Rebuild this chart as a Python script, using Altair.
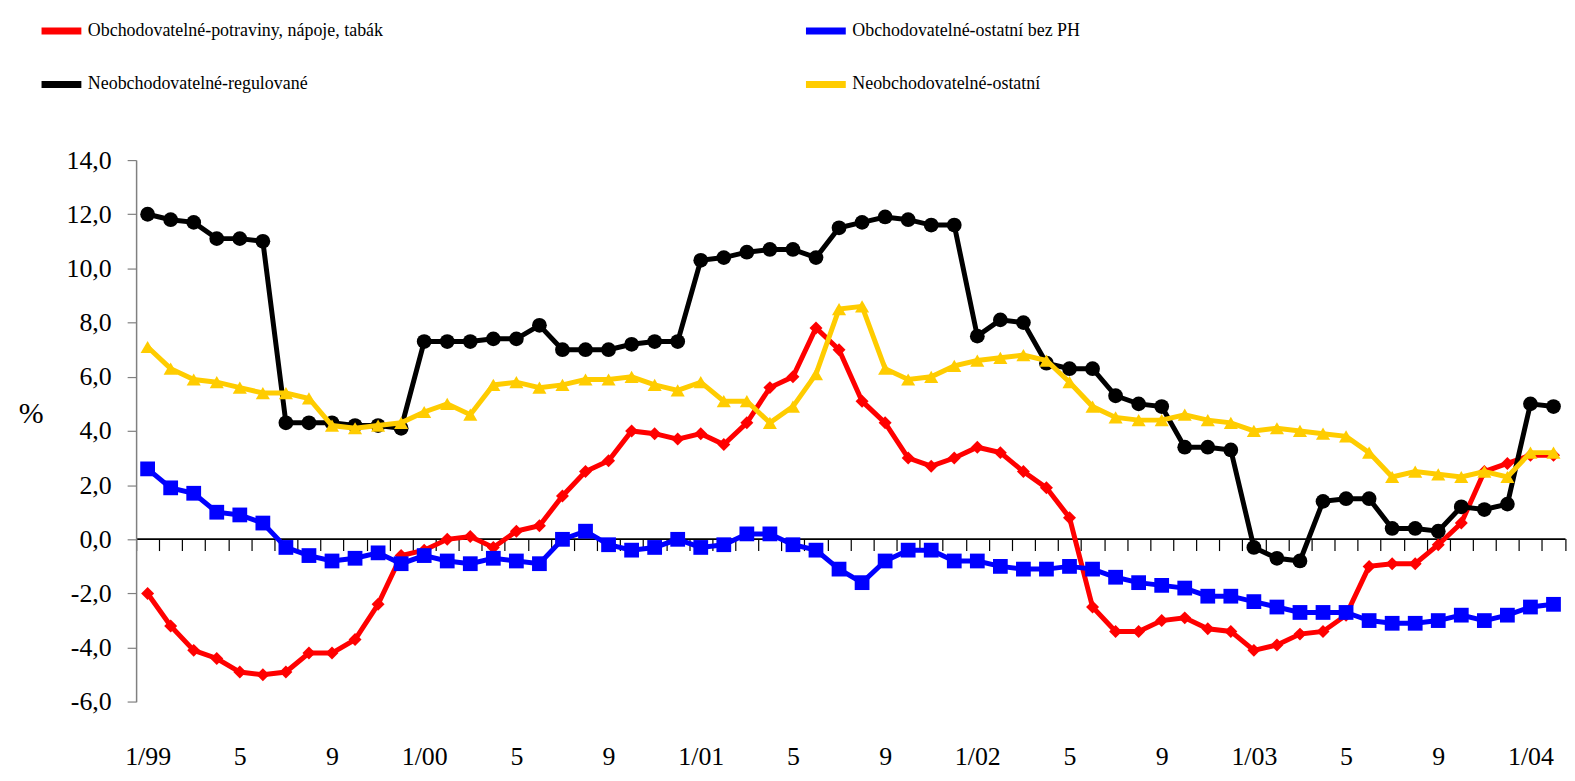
import altair as alt
import pandas as pd

# categories: months 1/99 .. 2/04
months = [f"{m}/{y:02d}" for y in (99, 0, 1, 2, 3) for m in range(1, 13)] + ["1/04", "2/04"]

series_names = [
    "Obchodovatelné-potraviny, nápoje, tabák",
    "Obchodovatelné-ostatní bez PH",
    "Neobchodovatelné-regulované",
    "Neobchodovatelné-ostatní",
]
series_colors = ["#FF0000", "#0000FF", "#000000", "#FFCC00"]
series_shapes = ["diamond", "square", "circle", "triangle-up"]
series_sizes = [170, 220, 220, 200]

potraviny = [-2.0, -3.2, -4.1, -4.4, -4.9, -5.0, -4.9, -4.2, -4.2, -3.7, -2.4, -0.6,
             -0.4, 0.0, 0.1, -0.3, 0.3, 0.5, 1.6, 2.5, 2.9, 4.0, 3.9, 3.7,
             3.9, 3.5, 4.3, 5.6, 6.0, 7.8, 7.0, 5.1, 4.3, 3.0, 2.7, 3.0,
             3.4, 3.2, 2.5, 1.9, 0.8, -2.5, -3.4, -3.4, -3.0, -2.9, -3.3, -3.4,
             -4.1, -3.9, -3.5, -3.4, -2.8, -1.0, -0.9, -0.9, -0.2, 0.6, 2.5, 2.8,
             3.1, 3.1]

ostatni_bez_ph = [2.6, 1.9, 1.7, 1.0, 0.9, 0.6, -0.3, -0.6, -0.8, -0.7, -0.5, -0.9,
                  -0.6, -0.8, -0.9, -0.7, -0.8, -0.9, 0.0, 0.3, -0.2, -0.4, -0.3, 0.0,
                  -0.3, -0.2, 0.2, 0.2, -0.2, -0.4, -1.1, -1.6, -0.8, -0.4, -0.4, -0.8,
                  -0.8, -1.0, -1.1, -1.1, -1.0, -1.1, -1.4, -1.6, -1.7, -1.8, -2.1, -2.1,
                  -2.3, -2.5, -2.7, -2.7, -2.7, -3.0, -3.1, -3.1, -3.0, -2.8, -3.0, -2.8,
                  -2.5, -2.4]

regulovane = [12.0, 11.8, 11.7, 11.1, 11.1, 11.0, 4.3, 4.3, 4.3, 4.2, 4.2, 4.1,
              7.3, 7.3, 7.3, 7.4, 7.4, 7.9, 7.0, 7.0, 7.0, 7.2, 7.3, 7.3,
              10.3, 10.4, 10.6, 10.7, 10.7, 10.4, 11.5, 11.7, 11.9, 11.8, 11.6, 11.6,
              7.5, 8.1, 8.0, 6.5, 6.3, 6.3, 5.3, 5.0, 4.9, 3.4, 3.4, 3.3,
              -0.3, -0.7, -0.8, 1.4, 1.5, 1.5, 0.4, 0.4, 0.3, 1.2, 1.1, 1.3,
              5.0, 4.9]

neobch_ostatni = [7.1, 6.3, 5.9, 5.8, 5.6, 5.4, 5.4, 5.2, 4.2, 4.1, 4.2, 4.3,
                  4.7, 5.0, 4.6, 5.7, 5.8, 5.6, 5.7, 5.9, 5.9, 6.0, 5.7, 5.5,
                  5.8, 5.1, 5.1, 4.3, 4.9, 6.1, 8.5, 8.6, 6.3, 5.9, 6.0, 6.4,
                  6.6, 6.7, 6.8, 6.6, 5.8, 4.9, 4.5, 4.4, 4.4, 4.6, 4.4, 4.3,
                  4.0, 4.1, 4.0, 3.9, 3.8, 3.2, 2.3, 2.5, 2.4, 2.3, 2.5, 2.3,
                  3.2, 3.2]

y_ticks = [-6, -4, -2, 0, 2, 4, 6, 8, 10, 12, 14]

all_values = [potraviny, ostatni_bez_ph, regulovane, neobch_ostatni]
rows = []
for name, vals in zip(series_names, all_values):
    for m, v in zip(months, vals):
        rows.append({"month": m, "series": name, "value": v})
df = pd.DataFrame(rows)

FONT = "Liberation Serif"

x_enc = alt.X(
    "month:O",
    sort=months,
    bandPosition=0.5,
    scale=alt.Scale(type="band", domain=months, paddingInner=0, paddingOuter=0),
    axis=alt.Axis(
        orient="bottom",
        offset=-164,
        tickBand="extent",
        tickSize=12,
        tickColor="#000000",
        tickWidth=1.2,
        domainColor="#000000",
        domainWidth=1.6,
        labelExpr="(split(datum.label,'/')[0]=='1') ? datum.label : ((split(datum.label,'/')[0]=='5' || split(datum.label,'/')[0]=='9') ? split(datum.label,'/')[0] : '')",
        labelFont=FONT,
        labelFontSize=26,
        labelColor="#000000",
        labelPadding=194,
        labelAngle=0,
        labelOverlap=False,
        title=None,
        grid=False,
    ),
)

y_enc = alt.Y(
    "value:Q",
    scale=alt.Scale(domain=[-6, 14], nice=False, zero=False),
    axis=alt.Axis(
        values=y_ticks,
        labelExpr="replace(replace(format(datum.value, '.1f'), '.', ','), '\u2212', '-')",
        labelFont=FONT,
        labelFontSize=26,
        labelColor="#000000",
        labelPadding=16,
        tickSize=9,
        tickColor="#808080",
        tickWidth=1.2,
        domainColor="#808080",
        domainWidth=1.5,
        grid=False,
        title="%",
        titleAngle=0,
        titleFont=FONT,
        titleFontSize=30,
        titleFontWeight="normal",
        titleColor="#000000",
        titleX=-106,
        titleY=255,
        titleAlign="center",
        titleBaseline="middle",
    ),
)

color_enc = alt.Color(
    "series:N",
    scale=alt.Scale(domain=series_names, range=series_colors),
    legend=alt.Legend(
        title=None,
        orient="none",
        legendX=-98.5,
        legendY=-153.5,
        direction="horizontal",
        columns=2,
        columnPadding=410,
        rowPadding=16,
        padding=0,
        symbolType="stroke",
        symbolSize=1600,
        symbolStrokeWidth=7,
        labelFont=FONT,
        labelFontSize=18,
        labelColor="#000000",
        labelLimit=800,
        labelOffset=3,
    ),
)

layers = []
for name, col, shp, sz in zip(series_names, series_colors, series_shapes, series_sizes):
    base = alt.Chart(df).transform_filter(alt.datum.series == name)
    line = base.mark_line(strokeWidth=5).encode(x=x_enc, y=y_enc, color=color_enc)
    pts = base.mark_point(filled=True, opacity=1, shape=shp, size=sz).encode(
        x=x_enc, y=y_enc, color=alt.value(col)
    )
    layers += [line, pts]

chart = (
    alt.layer(*layers)
    .properties(
        width=1435.6,
        height=544.3,
        autosize=alt.AutoSizeParams(type="none"),
        padding={"left": 128.7, "top": 151, "right": 2, "bottom": 70},
    )
    .configure(font=FONT)
    .configure_view(stroke=None)
    .configure_axis(labelFont=FONT, titleFont=FONT)
    .configure_legend(labelFont=FONT)
)

chart.save("out.html", embed_options={"renderer": "svg", "actions": False})
